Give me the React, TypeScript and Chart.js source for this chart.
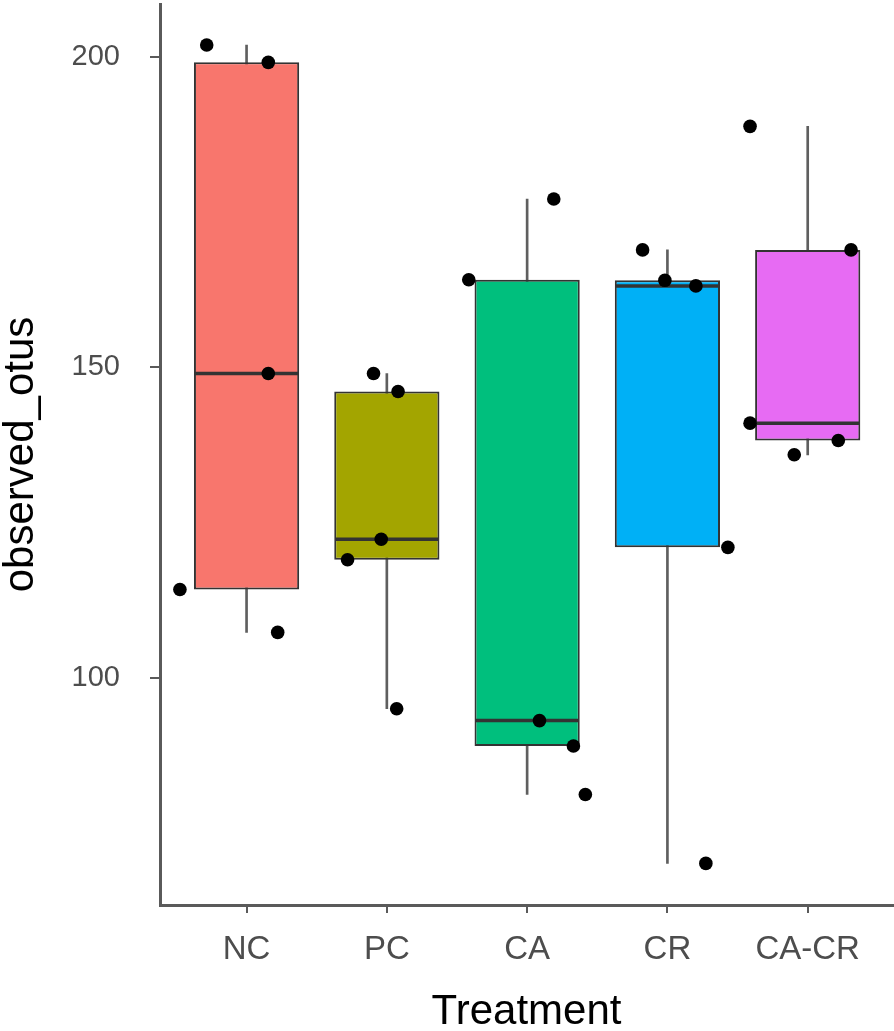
import React, { useEffect, useRef } from 'react';
import { Chart, registerables } from 'chart.js';

Chart.register(...registerables);

// ---- data ----
const CATEGORIES = ['NC', 'PC', 'CA', 'CR', 'CA-CR'];
const FILL_COLORS = ['#F8766D', '#A3A500', '#00BF7D', '#00B0F6', '#E76BF3'];

const WHISKER_LOW = [107.3, 95.0, 81.2, 70.1, 135.9];
const Q1 = [114.2, 119.0, 89.0, 121.0, 138.2];
const MEDIAN = [149.0, 122.3, 93.1, 163.1, 141.0];
const Q3 = [199.1, 146.1, 164.1, 164.0, 168.9];
const WHISKER_HIGH = [201.9, 149.0, 177.1, 168.9, 188.8];

// individual samples (observed_otus) per treatment
const NC_VALUES = [201.9, 199.1, 149.0, 114.2, 107.3];
const PC_VALUES = [149.0, 146.1, 122.3, 119.0, 95.0];
const CA_VALUES = [164.1, 177.1, 93.1, 89.0, 81.2];
const CR_VALUES = [168.9, 164.0, 163.1, 121.0, 70.1];
const CACR_VALUES = [188.8, 168.9, 141.0, 138.2, 135.9];
const SAMPLE_VALUES = [NC_VALUES, PC_VALUES, CA_VALUES, CR_VALUES, CACR_VALUES];

// horizontal jitter of each sample, in category units
const NC_JITTER = [-0.284, 0.155, 0.155, -0.475, 0.222];
const PC_JITTER = [-0.095, 0.08, -0.04, -0.28, 0.07];
const CA_JITTER = [-0.416, 0.19, 0.088, 0.33, 0.415];
const CR_JITTER = [-0.177, -0.018, 0.203, 0.431, 0.274];
const CACR_JITTER = [-0.411, 0.309, -0.411, 0.218, -0.096];
const SAMPLE_JITTER = [NC_JITTER, PC_JITTER, CA_JITTER, CR_JITTER, CACR_JITTER];

const Y_TICKS = [100, 150, 200];
const Y_MIN = 63.4;
const Y_MAX = 208.5;
const X_MIN = -0.617;
const X_MAX = 4.608;

const FONT_FAMILY = "'Liberation Sans', Arial, Helvetica, sans-serif";
const BOX_INDEX = 1;

const medianPlugin = {
  id: 'medianLines',
  afterDatasetDraw(chart: any, args: any) {
    if (args.index !== BOX_INDEX) return;
    const ctx = chart.ctx;
    const yScale = chart.scales.y;
    ctx.save();
    ctx.strokeStyle = '#333333';
    ctx.lineWidth = 3.5;
    args.meta.data.forEach((bar: any, i: number) => {
      const { x, width } = bar.getProps(['x', 'width'], true);
      const py = yScale.getPixelForValue(MEDIAN[i]);
      ctx.beginPath();
      ctx.moveTo(x - width / 2 + 1, py);
      ctx.lineTo(x + width / 2 - 1, py);
      ctx.stroke();
    });
    ctx.restore();
  },
};

export default function App() {
  const canvasRef = useRef<HTMLCanvasElement | null>(null);

  useEffect(() => {
    if (!canvasRef.current) return;

    const points: { x: number; y: number }[] = [];
    SAMPLE_VALUES.forEach((vals, i) => {
      vals.forEach((v, j) => points.push({ x: i + SAMPLE_JITTER[i][j], y: v }));
    });

    const boxes = CATEGORIES.map((_, i) => ({ x: i, y: [Q1[i], Q3[i]] }));
    const whiskers = CATEGORIES.map((_, i) => ({ x: i, y: [WHISKER_LOW[i], WHISKER_HIGH[i]] }));

    const chart = new Chart(canvasRef.current, {
      type: 'bar',
      data: {
        datasets: [
          {
            type: 'scatter',
            label: 'samples',
            data: points,
            backgroundColor: '#000000',
            borderWidth: 0,
            pointRadius: 6.8,
            order: 0,
          } as any,
          {
            type: 'bar',
            label: 'box',
            data: boxes as any,
            backgroundColor: FILL_COLORS,
            borderColor: '#333333',
            borderWidth: 2,
            borderSkipped: false,
            grouped: false,
            barPercentage: 0.75,
            categoryPercentage: 1,
            order: 1,
          } as any,
          {
            type: 'bar',
            label: 'whisker',
            data: whiskers as any,
            backgroundColor: '#5f5f5f',
            borderWidth: 0,
            grouped: false,
            barThickness: 2,
            order: 2,
          } as any,
        ],
      },
      options: {
        responsive: false,
        devicePixelRatio: 1,
        animation: false,
        events: [],
        layout: { padding: { top: 4, right: 1, bottom: 0, left: 0 }, autoPadding: false },
        plugins: {
          legend: { display: false },
          tooltip: { enabled: false },
        },
        scales: {
          x: {
            type: 'linear',
            min: X_MIN,
            max: X_MAX,
            offset: false,
            afterBuildTicks: (scale: any) => {
              scale.ticks = CATEGORIES.map((_, i) => ({ value: i }));
            },
            afterFit: (scale: any) => {
              scale.height = 126;
              scale.paddingLeft = 0;
              scale.paddingRight = 0;
              scale.paddingTop = 0;
              scale.paddingBottom = 0;
            },
            ticks: {
              autoSkip: false,
              maxRotation: 0,
              padding: 17,
              color: '#4D4D4D',
              font: { family: FONT_FAMILY, size: 33 },
              callback: (v: any) => CATEGORIES[Math.round(Number(v))] ?? '',
            },
            grid: {
              offset: false,
              drawOnChartArea: false,
              drawTicks: true,
              tickLength: 8,
              color: '#5a5a5a',
              lineWidth: 2,
            },
            border: { display: true, color: '#5a5a5a', width: 3 },
            title: {
              display: true,
              text: 'Treatment',
              color: '#000000',
              font: { family: FONT_FAMILY, size: 42, lineHeight: 1 },
              padding: { top: 0, bottom: -2 },
            },
          },
          y: {
            type: 'linear',
            min: Y_MIN,
            max: Y_MAX,
            afterBuildTicks: (scale: any) => {
              scale.ticks = Y_TICKS.map((v) => ({ value: v }));
            },
            afterFit: (scale: any) => {
              scale.width = 160;
              scale.paddingLeft = 0;
              scale.paddingRight = 0;
              scale.paddingTop = 0;
              scale.paddingBottom = 0;
            },
            ticks: {
              padding: 30,
              color: '#4D4D4D',
              font: { family: FONT_FAMILY, size: 29 },
            },
            grid: {
              drawOnChartArea: false,
              drawTicks: true,
              tickLength: 10,
              color: '#5a5a5a',
              lineWidth: 2,
            },
            border: { display: true, color: '#5a5a5a', width: 3 },
            title: {
              display: true,
              text: 'observed_otus',
              color: '#000000',
              font: { family: FONT_FAMILY, size: 42, lineHeight: 1 },
              padding: { top: 0, bottom: 0 },
            },
          },
        },
      } as any,
      plugins: [medianPlugin],
    });

    return () => chart.destroy();
  }, []);

  return (
    <div style={{ position: 'absolute', left: 0, top: 0, width: 894, height: 1031, background: '#ffffff' }}>
      <canvas ref={canvasRef} width={894} height={1031} style={{ display: 'block' }} />
    </div>
  );
}
